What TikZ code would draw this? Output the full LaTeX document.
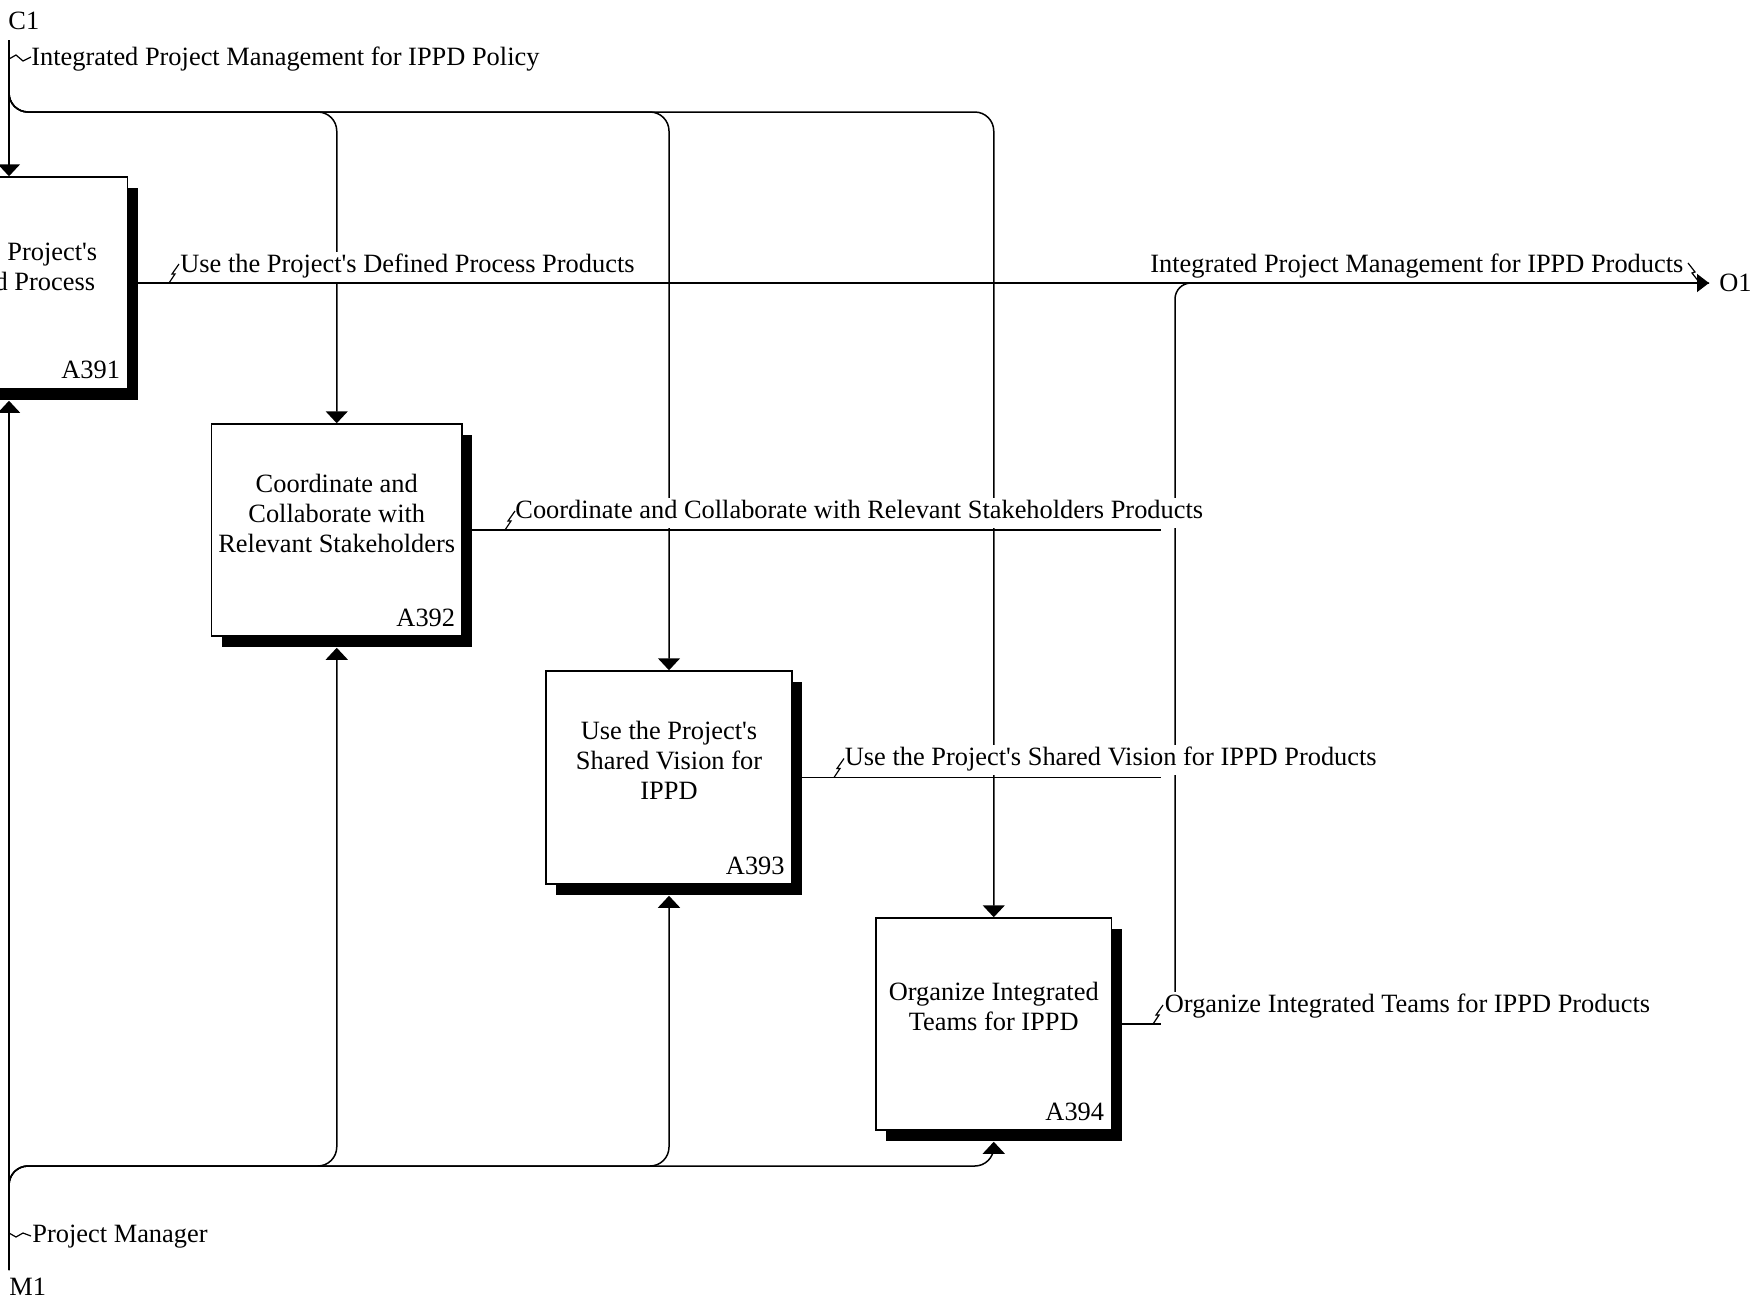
\documentclass[tikz,border=0pt]{standalone}
\usepackage{fontspec}
\setmainfont{Liberation Serif}[Ligatures=TeXOff]
\usetikzlibrary{arrows.meta,shadows}
\begin{document}
\begin{tikzpicture}[x=0.5pt,y=-0.5pt,
  font=\fontsize{13.2}{15}\selectfont,
  flow/.style={line width=0.75pt},
  tipin/.style={-{Triangle[width=11pt,length=6pt]}},
  tipout/.style={-{Triangle[width=9pt,length=6pt]}},
  roundbend/.style={rounded corners=9.5pt},
  actbox/.style={draw, fill=white, line width=0.75pt, inner sep=0pt,
    drop shadow={shadow xshift=5pt, shadow yshift=-5.5pt, opacity=1, fill=black}},
  boxtext/.style={align=center, inner sep=0pt},
  boxnum/.style={anchor=base east, inner sep=0pt},
  lbl/.style={anchor=base west, inner sep=0pt, fill=white, text height=10pt, text depth=5pt},
  tag/.style={anchor=base west, inner sep=0pt},
  squig/.style={line width=0.6pt},
]
\useasboundingbox (0,0) rectangle (1754,1307);
\clip (0,0) rectangle (1754,1307);

% ---------- activity boxes ----------
\node[actbox, minimum width=118.5pt, minimum height=106pt]   (A391) at (9,283) {};
\node[actbox, minimum width=125.25pt, minimum height=106pt]  (A392) at (336.75,530) {};
\node[actbox, minimum width=123pt, minimum height=106.5pt]   (A393) at (669,777.5) {};
\node[actbox, minimum width=117.75pt, minimum height=106pt]  (A394) at (993.75,1024) {};

\node[boxtext] (t391) at (9,266) {Use the Project's\\Defined Process};
\node[boxtext] (t392) at (336.75,513) {Coordinate and\\Collaborate with\\Relevant Stakeholders};
\node[boxtext] (t393) at (669,760) {Use the Project's\\Shared Vision for\\IPPD};
\node[boxtext] (t394) at (993.75,1006.5) {Organize Integrated\\Teams for IPPD};

\node[boxnum] (n391) at (120.5,378) {A391};
\node[boxnum] (n392) at (455.5,626) {A392};
\node[boxnum] (n393) at (785,874) {A393};
\node[boxnum] (n394) at (1104.5,1120) {A394};

% ---------- boundary coordinates ----------
\coordinate (c1) at (9,40);
\coordinate (cb) at (9,112);
\coordinate (m1) at (9,1270);
\coordinate (mb) at (9,1166);
\coordinate (o1) at (1709,283);
\coordinate (busb) at (1175,1000);
\coordinate (bust) at (1175,283);
\coordinate (e392) at (1161,530);
\coordinate (e393) at (1161,777.5);
\coordinate (e394) at (1161,1024);

% ---------- controls (C1) ----------
\draw[flow,tipin] (c1) -- (A391.north);
\draw[flow,tipin,roundbend] (c1) -- (cb) -| (A392.north);
\draw[flow,tipin,roundbend] (c1) -- (cb) -| (A393.north);
\draw[flow,tipin,roundbend] (c1) -- (cb) -| (A394.north);

% ---------- mechanisms (M1) ----------
\draw[flow,tipin] (m1) -- ([yshift=-5.5pt]A391.south);
\draw[flow,tipin,roundbend] (m1) -- (mb) -| ([yshift=-5.5pt]A392.south);
\draw[flow,tipin,roundbend] (m1) -- (mb) -| ([yshift=-5.5pt]A393.south);
\draw[flow,tipin,roundbend] (m1) -- (mb) -| ([yshift=-5.5pt]A394.south);

% ---------- output bus ----------
\draw[flow,rounded corners=8pt] (busb) -- (bust) -- (o1);

% ---------- labels ----------
\node[lbl] (lpol) at (31,65) {Integrated Project Management for IPPD Policy};
\node[lbl] (l391) at (180,272) {Use the Project's Defined Process Products};
\node[lbl] (lout) at (1150,272) {Integrated Project Management for IPPD Products};
\node[lbl] (l392) at (515,518) {Coordinate and Collaborate with Relevant Stakeholders Products};
\node[lbl] (l393) at (844.5,765) {Use the Project's Shared Vision for IPPD Products};
\node[lbl] (l394) at (1164.5,1012) {Organize Integrated Teams for IPPD Products};
\node[lbl] (lmgr) at (32,1242) {Project Manager};

\node[tag] (C1) at (8,29) {C1};
\node[tag] (M1) at (9,1295) {M1};
\node[tag] (O1) at (1719,291) {O1};

% ---------- outputs ----------
\draw[flow,tipout] (A391.east) -- (o1);
\draw[flow] (A392.east) -- (e392);
\draw[flow] (A393.east) -- (e393);
\draw[flow] (A394.east) -- (e394);

% ---------- squiggles ----------
\draw[squig] (9,59) -- ++(7,-4) -- ++(7,6) -- ++(8,-4);
\draw[squig] (9,1233) -- ++(7,4) -- ++(7,-4) -- ++(8,3);
\draw[squig] (169,283) -- ++(6,-9) -- ++(-3,0) -- ++(7,-10);
\draw[squig] (505,530) -- ++(6,-9) -- ++(-3,0) -- ++(7,-10);
\draw[squig] (834,777.5) -- ++(6,-9) -- ++(-3,0) -- ++(7,-10);
\draw[squig] (1153,1024) -- ++(6,-9) -- ++(-3,0) -- ++(7,-10);
\draw[squig] (1688,263) -- ++(7,9) -- ++(-3,1) -- ++(7,9);
\end{tikzpicture}
\end{document}
